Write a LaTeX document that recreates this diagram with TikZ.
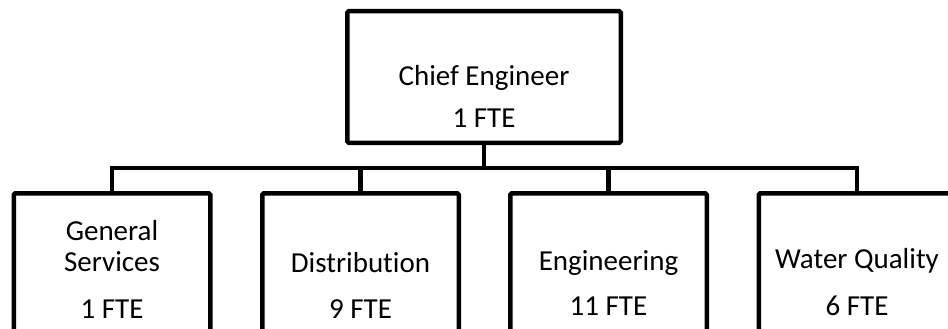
\documentclass[tikz,border=0pt]{standalone}
\usepackage{fontspec}
\setmainfont{Carlito}[Ligatures=NoCommon]
\usetikzlibrary{positioning}
\tikzset{
  unit/.style={draw, line width=4.5pt, rounded corners=1.5pt, inner sep=0pt,
    minimum width=196.5pt, minimum height=160pt},
  headunit/.style={unit, minimum width=273.5pt, minimum height=131.5pt},
  lbl/.style={font=\fontsize{29}{35}\selectfont, anchor=base, inner sep=0pt},
  link/.style={line width=4.5pt}
}

\begin{document}
\begin{tikzpicture}[x=1pt, y=-1pt]
  \useasboundingbox (0,0) rectangle (948,329);
  % head of the division
  \node[headunit] (chief) at (484,77) {};
  \node[lbl] (chief-name) at (484,85) {Chief Engineer};
  \node[lbl] (chief-fte) at (484,128) {1 FTE};
  % the four sections (bottom edges run off the page)
  \foreach \n/\x in {gs/112, dist/360.5, eng/608.5, wq/857}{
    \node[unit] (\n) at (\x,273.25) {};
  }
  \node[lbl] (gs-name1) at (112,240.7) {General};
  \node[lbl] (gs-name2) at (112,271.7) {Services};
  \node[lbl] (gs-fte) at (112,318) {1 FTE};
  \node[lbl] (dist-name) at (360.5,272.7) {Distribution};
  \node[lbl] (dist-fte) at (360.5,318) {9 FTE};
  \node[lbl] (eng-name) at (608.5,270) {Engineering};
  \node[lbl] (eng-fte) at (608.5,315) {11 FTE};
  \node[lbl] (wq-name) at (857,268) {Water Quality};
  \node[lbl] (wq-fte) at (857,315) {6 FTE};
  % connectors
  \coordinate (bus) at (484,168);
  \draw[link] (chief.south) -- (bus);
  \foreach \n in {gs,dist,eng,wq}{
    \draw[link] (bus) -| (\n.north);
  }
\end{tikzpicture}
\end{document}
